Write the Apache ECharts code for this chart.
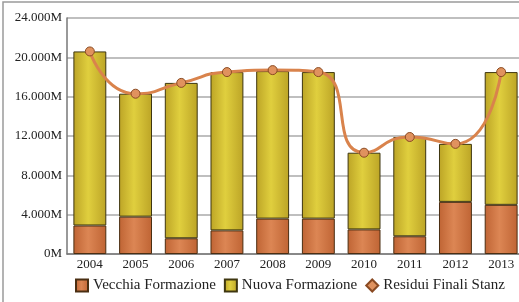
<!DOCTYPE html>
<html>
<head>
<meta charset="utf-8">
<script src="https://cdn.jsdelivr.net/npm/echarts@6/dist/echarts.min.js"></script>
<style>
  html, body { margin: 0; padding: 0; overflow: hidden; background: #fff; }
  #chart { width: 530px; height: 302px; }
</style>
</head>
<body>
<div id="chart"></div>
<script>
// values in millions
var years = ['2004', '2005', '2006', '2007', '2008', '2009', '2010', '2011', '2012', '2013']
var vecchia = [2.9, 3.8, 1.6, 2.4, 3.6, 3.6, 2.5, 1.8, 5.3, 5.0]
var totali = [20.6, 16.3, 17.4, 18.5, 18.6, 18.5, 10.3, 11.9, 11.2, 18.5]
var nuova = totali.map(function (t, i) { return +(t - vecchia[i]).toFixed(2) })
var residui = [20.6, 16.3, 17.4, 18.5, 18.7, 18.5, 10.3, 11.9, 11.2, 18.5]

var font = 'Liberation Serif'

function barGrad(edge, mid) {
  return new echarts.graphic.LinearGradient(0, 0, 1, 0, [
    { offset: 0, color: edge },
    { offset: 0.45, color: mid },
    { offset: 1, color: edge }
  ])
}

var chart = echarts.init(document.getElementById('chart'))
var option = {
  animation: false,
  textStyle: { fontFamily: font },
  graphic: [
    {
      type: 'rect',
      shape: { x: 3, y: 2, width: 600, height: 400 },
      style: { fill: 'none', stroke: '#9a9a9a', lineWidth: 1.5 },
      silent: true
    }
  ],
  legend: {
    bottom: 4,
    left: 70,
    itemWidth: 12,
    itemHeight: 12,
    itemGap: 8,
    textStyle: { fontFamily: font, fontSize: 15, color: '#222' },
    data: [
      { name: 'Vecchia Formazione', icon: 'rect' },
      { name: 'Nuova Formazione', icon: 'rect' },
      { name: 'Residui Finali Stanz', icon: 'diamond' }
    ]
  },
  grid: { left: 67, right: 6, top: 18, bottom: 48 },
  xAxis: {
    type: 'category',
    data: years,
    axisTick: { show: false },
    axisLine: { lineStyle: { color: '#777', width: 1.5 } },
    axisLabel: { fontFamily: font, fontSize: 13, color: '#222', margin: 4 }
  },
  yAxis: {
    type: 'value',
    min: 0,
    max: 24,
    interval: 4,
    axisLine: { show: true, lineStyle: { color: '#777', width: 1.5 } },
    axisTick: { show: false },
    splitLine: { lineStyle: { color: '#aaa', width: 1.5 } },
    axisLabel: {
      fontFamily: font,
      fontSize: 13,
      color: '#222',
      margin: 5,
      formatter: function (v) { return v === 0 ? '0M' : v + '.000M' }
    }
  },
  series: [
    {
      name: 'Vecchia Formazione',
      type: 'bar',
      stack: 'tot',
      barCategoryGap: '28%',
      itemStyle: {
        color: barGrad('#bf6434', '#dc8654'),
        borderColor: '#4a2e12',
        borderWidth: 1
      },
      data: vecchia
    },
    {
      name: 'Nuova Formazione',
      type: 'bar',
      stack: 'tot',
      itemStyle: {
        color: barGrad('#bca426', '#e0cf3e'),
        borderColor: '#3e3610',
        borderWidth: 1
      },
      data: nuova
    },
    {
      name: 'Residui Finali Stanz',
      type: 'line',
      smooth: 0.6,
      symbol: 'circle',
      symbolSize: 9,
      z: 5,
      lineStyle: { color: '#d9834c', width: 3 },
      itemStyle: { color: '#e0925e', borderColor: '#8a4a22', borderWidth: 1 },
      data: residui
    }
  ]
}
chart.setOption(option)
</script>
</body>
</html>
